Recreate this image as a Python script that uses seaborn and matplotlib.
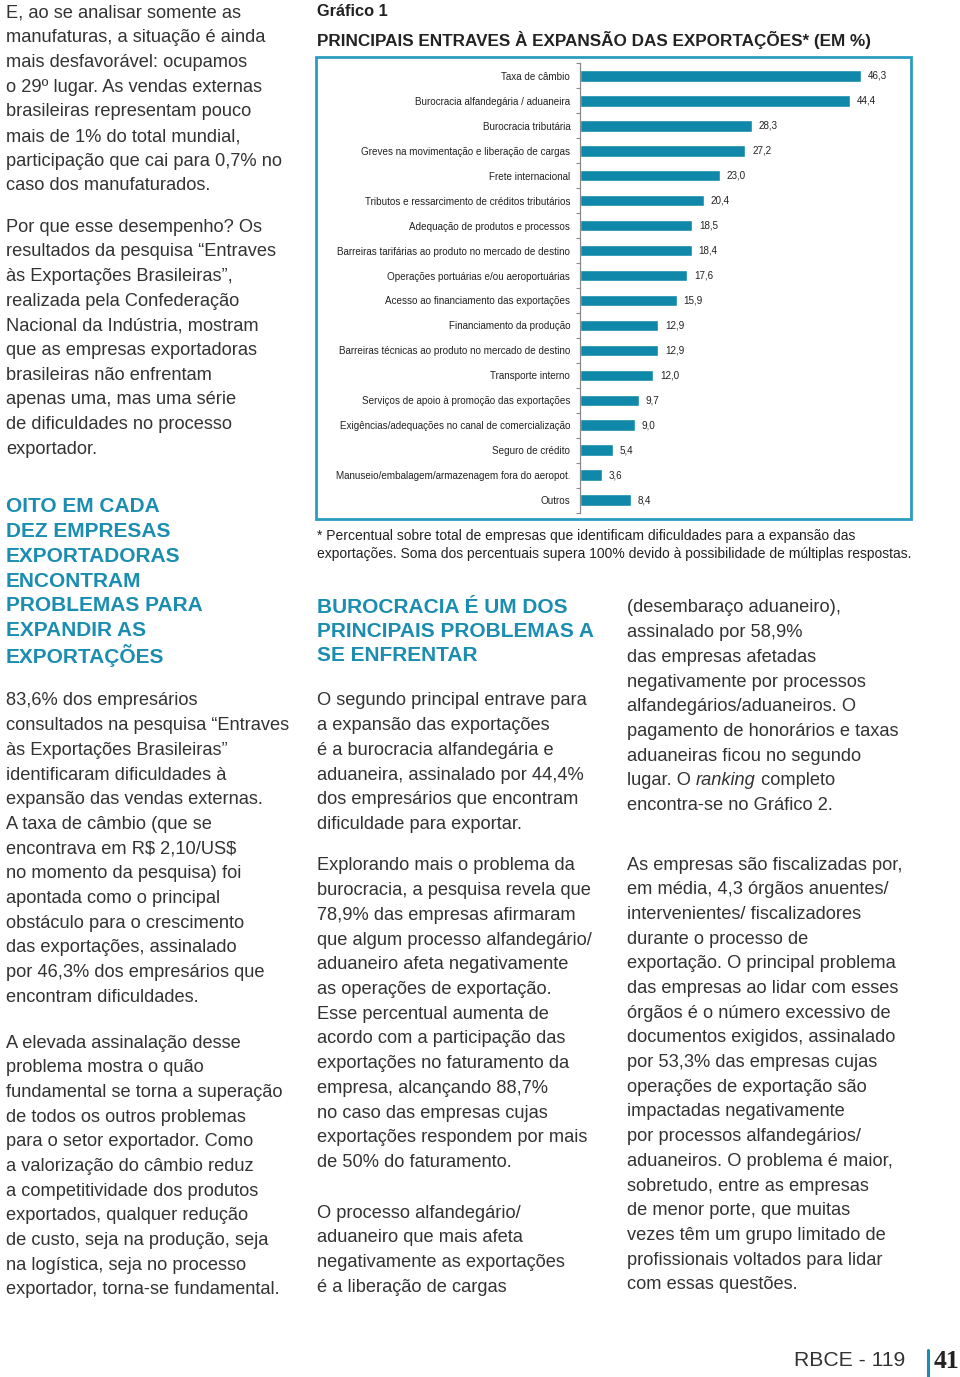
import matplotlib
matplotlib.use("Agg")
import matplotlib.pyplot as plt
from matplotlib.patches import Rectangle
from matplotlib.ticker import FixedLocator
import seaborn as sns

# --- chart data ---
entraves = [
    "Taxa de câmbio",
    "Burocracia alfandegária / aduaneira",
    "Burocracia tributária",
    "Greves na movimentação e liberação de cargas",
    "Frete internacional",
    "Tributos e ressarcimento de créditos tributários",
    "Adequação de produtos e processos",
    "Barreiras tarifárias ao produto no mercado de destino",
    "Operações portuárias e/ou aeroportuárias",
    "Acesso ao financiamento das exportações",
    "Financiamento da produção",
    "Barreiras técnicas ao produto no mercado de destino",
    "Transporte interno",
    "Serviços de apoio à promoção das exportações",
    "Exigências/adequações no canal de comercialização",
    "Seguro de crédito",
    "Manuseio/embalagem/armazenagem fora do aeropot.",
    "Outros",
]
percentuais = [46.3, 44.4, 28.3, 27.2, 23.0, 20.4, 18.5, 18.4, 17.6, 15.9,
               12.9, 12.9, 12.0, 9.7, 9.0, 5.4, 3.6, 8.4]

grafico_titulo = "Gráfico 1"
grafico_subtitulo = "PRINCIPAIS ENTRAVES À EXPANSÃO DAS EXPORTAÇÕES* (EM %)"
nota = [
    "* Percentual sobre total de empresas que identificam dificuldades para a expansão das",
    "exportações. Soma dos percentuais supera 100% devido à possibilidade de múltiplas respostas.",
]

# --- page text ---
col1_bloco1 = [
    "E, ao se analisar somente as",
    "manufaturas, a situação é ainda",
    "mais desfavorável: ocupamos",
    "o 29º lugar. As vendas externas",
    "brasileiras representam pouco",
    "mais de 1% do total mundial,",
    "participação que cai para 0,7% no",
    "caso dos manufaturados.",
]
col1_bloco2 = [
    "Por que esse desempenho? Os",
    "resultados da pesquisa “Entraves",
    "às Exportações Brasileiras”,",
    "realizada pela Confederação",
    "Nacional da Indústria, mostram",
    "que as empresas exportadoras",
    "brasileiras não enfrentam",
    "apenas uma, mas uma série",
    "de dificuldades no processo",
    "exportador.",
]
col1_titulo = [
    "OITO EM CADA", "DEZ EMPRESAS", "EXPORTADORAS", "ENCONTRAM",
    "PROBLEMAS PARA", "EXPANDIR AS", "EXPORTAÇÕES",
]
col1_bloco3 = [
    "83,6% dos empresários",
    "consultados na pesquisa “Entraves",
    "às Exportações Brasileiras”",
    "identificaram dificuldades à",
    "expansão das vendas externas.",
    "A taxa de câmbio (que se",
    "encontrava em R$ 2,10/US$",
    "no momento da pesquisa) foi",
    "apontada como o principal",
    "obstáculo para o crescimento",
    "das exportações, assinalado",
    "por 46,3% dos empresários que",
    "encontram dificuldades.",
]
col1_bloco4 = [
    "A elevada assinalação desse",
    "problema mostra o quão",
    "fundamental se torna a superação",
    "de todos os outros problemas",
    "para o setor exportador. Como",
    "a valorização do câmbio reduz",
    "a competitividade dos produtos",
    "exportados, qualquer redução",
    "de custo, seja na produção, seja",
    "na logística, seja no processo",
    "exportador, torna-se fundamental.",
]
col2_titulo = ["BUROCRACIA É UM DOS", "PRINCIPAIS PROBLEMAS A", "SE ENFRENTAR"]
col2_bloco1 = [
    "O segundo principal entrave para",
    "a expansão das exportações",
    "é a burocracia alfandegária e",
    "aduaneira, assinalado por 44,4%",
    "dos empresários que encontram",
    "dificuldade para exportar.",
]
col2_bloco2 = [
    "Explorando mais o problema da",
    "burocracia, a pesquisa revela que",
    "78,9% das empresas afirmaram",
    "que algum processo alfandegário/",
    "aduaneiro afeta negativamente",
    "as operações de exportação.",
    "Esse percentual aumenta de",
    "acordo com a participação das",
    "exportações no faturamento da",
    "empresa, alcançando 88,7%",
    "no caso das empresas cujas",
    "exportações respondem por mais",
    "de 50% do faturamento.",
]
col2_bloco3 = [
    "O processo alfandegário/",
    "aduaneiro que mais afeta",
    "negativamente as exportações",
    "é a liberação de cargas",
]
col3_bloco1 = [
    "(desembaraço aduaneiro),",
    "assinalado por 58,9%",
    "das empresas afetadas",
    "negativamente por processos",
    "alfandegários/aduaneiros. O",
    "pagamento de honorários e taxas",
    "aduaneiras ficou no segundo",
    ["lugar. O ", ("ranking", "italic"), " completo"],
    "encontra-se no Gráfico 2.",
]
col3_bloco2 = [
    "As empresas são fiscalizadas por,",
    "em média, 4,3 órgãos anuentes/",
    "intervenientes/ fiscalizadores",
    "durante o processo de",
    "exportação. O principal problema",
    "das empresas ao lidar com esses",
    "órgãos é o número excessivo de",
    "documentos exigidos, assinalado",
    "por 53,3% das empresas cujas",
    "operações de exportação são",
    "impactadas negativamente",
    "por processos alfandegários/",
    "aduaneiros. O problema é maior,",
    "sobretudo, entre as empresas",
    "de menor porte, que muitas",
    "vezes têm um grupo limitado de",
    "profissionais voltados para lidar",
    "com essas questões.",
]
rodape = "RBCE - 119"
pagina = "41"

W, H = 960, 1377
TEXTO = "#333333"
TEAL = "#1a8db0"
BARRA = "#0f88a9"
BORDA = "#2b9dc0"

sns.set_theme(style="white")
plt.rcParams["font.family"] = ["Liberation Sans", "DejaVu Sans"]
plt.rcParams["text.parse_math"] = False

fig = plt.figure(figsize=(W / 100, H / 100), dpi=100)
renderer = fig.canvas.get_renderer()


def put(x, y, s, **kw):
    kw.setdefault("color", TEXTO)
    kw.setdefault("fontsize", 13.15)
    return fig.text(x / W, 1 - y / H, s, va="center", ha=kw.pop("ha", "left"), **kw)


def bloco(x, y0, linhas, passo=24.7, **kw):
    for i, linha in enumerate(linhas):
        y = y0 + i * passo
        if isinstance(linha, list):
            xx = x
            for parte in linha:
                estilo = "normal"
                if isinstance(parte, tuple):
                    parte, estilo = parte
                t = put(xx, y, parte, style=estilo, **kw)
                xx += t.get_window_extent(renderer).width
        else:
            put(x, y, linha, **kw)


bloco(6, 13, col1_bloco1)
bloco(6, 227, col1_bloco2)
bloco(6, 507, col1_titulo, 24.7, color=TEAL, fontsize=15, weight="bold")
bloco(6, 701, col1_bloco3)
bloco(6, 1043, col1_bloco4)

bloco(317, 608, col2_titulo, 23.6, color=TEAL, fontsize=15, weight="bold")
bloco(317, 701, col2_bloco1)
bloco(317, 866, col2_bloco2)
bloco(317, 1213, col2_bloco3)

bloco(627, 608, col3_bloco1)
bloco(627, 865, col3_bloco2)

# --- chart header / footnote ---
put(317, 11, grafico_titulo, fontsize=11.8, weight="bold", color="#222222")
put(317, 40, grafico_subtitulo, fontsize=12.35, weight="bold", color="#222222")
bloco(317, 536, nota, 18, fontsize=9.98, color="#222222")

# box around chart
fig.patches.append(Rectangle((316 / W, 1 - 519 / H), (911 - 316) / W, (519 - 57) / H,
                             transform=fig.transFigure, fill=False,
                             edgecolor=BORDA, linewidth=2.0))

# --- bar chart ---
ax = fig.add_axes([580 / W, 1 - 512.5 / H, 325 / W, 449 / H])
sns.barplot(x=percentuais, y=entraves, orient="h", color=BARRA,
            width=0.46, saturation=1, ax=ax)
ax.set_xlim(0, 53.5)
ax.set_ylim(len(entraves) - 0.5, -0.5)
ax.set_xticks([])
ax.set_xlabel("")
ax.set_ylabel("")
for lado in ["top", "right", "bottom"]:
    ax.spines[lado].set_visible(False)
ax.spines["left"].set_color("#8a8a8a")
ax.spines["left"].set_linewidth(0.9)
ax.tick_params(axis="y", which="major", length=0, pad=7,
               labelsize=7.1, labelcolor="#222222")
ax.yaxis.set_minor_locator(FixedLocator([i - 0.5 for i in range(len(entraves) + 1)]))
ax.tick_params(axis="y", which="minor", length=3, width=0.8, color="#8a8a8a",
               direction="out", left=True)
ax.bar_label(ax.containers[0], labels=[f"{v:.1f}".replace(".", ",") for v in percentuais],
             padding=5, fontsize=7.1, color="#222222")
ax.set_facecolor("none")

# --- footer ---
put(905, 1360, rodape, fontsize=15.2, ha="right")
fig.add_artist(plt.Line2D([928 / W, 928 / W], [1 - 1350 / H, 0], transform=fig.transFigure,
                          color=TEAL, linewidth=2.2))
put(934, 1362, pagina, fontsize=18.5, weight="bold",
    family=["Liberation Serif", "DejaVu Serif"], color="#222222")

fig.savefig("out.png", dpi=100)
